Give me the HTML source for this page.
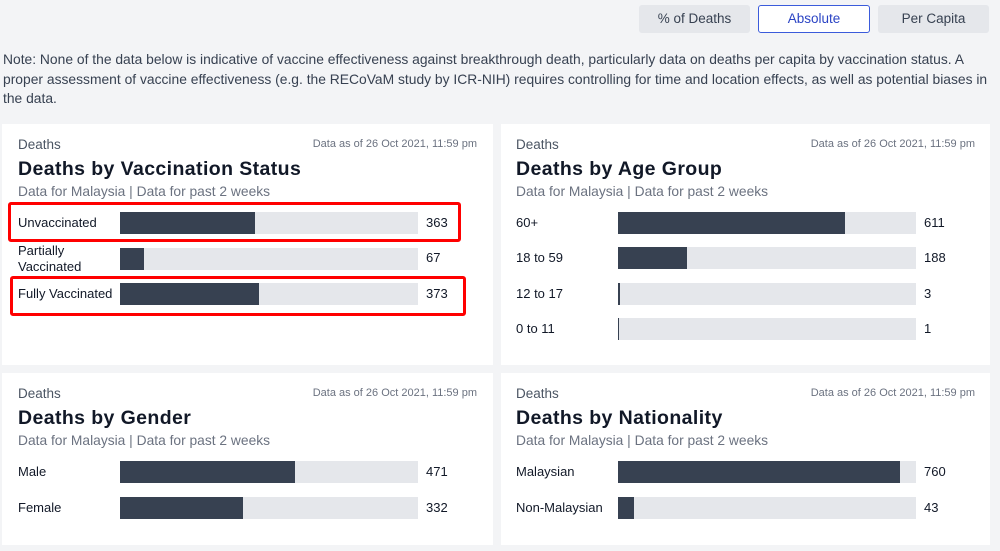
<!DOCTYPE html>
<html><head><style>
body{margin:0;width:1000px;height:551px;background:#f3f4f6;font-family:"Liberation Sans",sans-serif;position:relative;overflow:hidden;color:#111827}
.btn{position:absolute;top:5px;height:28px;width:111px;background:#e5e7eb;border-radius:3px;font-size:13.5px;line-height:28px;text-align:center;color:#374151}
.btn.a{background:#fff;border:1px solid #3b5bdb;color:#2b44c4;height:26px;line-height:26px;width:110px}
.note{position:absolute;left:3px;top:50px;width:995px;font-size:13.85px;line-height:19.5px;color:#374151}
.card{position:absolute;background:#fff}
.t{position:absolute;font-size:13.5px;color:#4b5563}
.d{position:absolute;font-size:11px;color:#6b7280;text-align:right;width:300px}
.h{position:absolute;font-size:19.5px;font-weight:bold;color:#111827;letter-spacing:0.4px}
.s{position:absolute;font-size:13.8px;color:#6b7280}
.lab{position:absolute;font-size:13px;color:#111827;line-height:16px}
.tr{position:absolute;height:22px;width:298px;background:#e5e7eb}
.f{height:22px;background:#374151}
.v{position:absolute;font-size:13px;color:#111827}
.red{position:absolute;border:3px solid #ff0000;border-radius:3px}
</style></head><body>
<div class="btn" style="left:639px">% of Deaths</div>
<div class="btn a" style="left:758px">Absolute</div>
<div class="btn" style="left:878px">Per Capita</div>
<div class="note">Note: None of the data below is indicative of vaccine effectiveness against breakthrough death, particularly data on deaths per capita by vaccination status. A proper assessment of vaccine effectiveness (e.g. the RECoVaM study by ICR-NIH) requires controlling for time and location effects, as well as potential biases in the data.</div>

<div class="card" style="left:2px;top:124px;width:491px;height:241px"></div>
<div class="card" style="left:501px;top:124px;width:489px;height:241px"></div>
<div class="card" style="left:2px;top:373px;width:491px;height:172px"></div>
<div class="card" style="left:501px;top:373px;width:489px;height:172px"></div>

<!-- card 1 -->
<div class="t" style="left:18px;top:137px">Deaths</div>
<div class="d" style="left:177px;top:138px">Data as of 26 Oct 2021, 11:59 pm</div>
<div class="h" style="left:18px;top:158px">Deaths by Vaccination Status</div>
<div class="s" style="left:18px;top:184px">Data for Malaysia | Data for past 2 weeks</div>
<div class="lab" style="left:18px;top:215px">Unvaccinated</div>
<div class="tr" style="left:120px;top:212px"><div class="f" style="width:135px"></div></div>
<div class="v" style="left:426px;top:215px">363</div>
<div class="lab" style="left:18px;top:243px">Partially<br>Vaccinated</div>
<div class="tr" style="left:120px;top:248px"><div class="f" style="width:24px"></div></div>
<div class="v" style="left:426px;top:250px">67</div>
<div class="lab" style="left:18px;top:286px">Fully Vaccinated</div>
<div class="tr" style="left:120px;top:283px"><div class="f" style="width:139px"></div></div>
<div class="v" style="left:426px;top:286px">373</div>
<div class="red" style="left:8px;top:202px;width:447px;height:34px"></div>
<div class="red" style="left:10px;top:276px;width:450px;height:34px"></div>

<!-- card 2 -->
<div class="t" style="left:516px;top:137px">Deaths</div>
<div class="d" style="left:675px;top:138px">Data as of 26 Oct 2021, 11:59 pm</div>
<div class="h" style="left:516px;top:158px">Deaths by Age Group</div>
<div class="s" style="left:516px;top:184px">Data for Malaysia | Data for past 2 weeks</div>
<div class="lab" style="left:516px;top:215px">60+</div>
<div class="tr" style="left:618px;top:212px"><div class="f" style="width:227px"></div></div>
<div class="v" style="left:924px;top:215px">611</div>
<div class="lab" style="left:516px;top:250px">18 to 59</div>
<div class="tr" style="left:618px;top:247px"><div class="f" style="width:69px"></div></div>
<div class="v" style="left:924px;top:250px">188</div>
<div class="lab" style="left:516px;top:286px">12 to 17</div>
<div class="tr" style="left:618px;top:283px"><div class="f" style="width:2px"></div></div>
<div class="v" style="left:924px;top:286px">3</div>
<div class="lab" style="left:516px;top:321px">0 to 11</div>
<div class="tr" style="left:618px;top:318px"><div class="f" style="width:1px"></div></div>
<div class="v" style="left:924px;top:321px">1</div>

<!-- card 3 -->
<div class="t" style="left:18px;top:386px">Deaths</div>
<div class="d" style="left:177px;top:387px">Data as of 26 Oct 2021, 11:59 pm</div>
<div class="h" style="left:18px;top:407px">Deaths by Gender</div>
<div class="s" style="left:18px;top:433px">Data for Malaysia | Data for past 2 weeks</div>
<div class="lab" style="left:18px;top:464px">Male</div>
<div class="tr" style="left:120px;top:461px"><div class="f" style="width:175px"></div></div>
<div class="v" style="left:426px;top:464px">471</div>
<div class="lab" style="left:18px;top:500px">Female</div>
<div class="tr" style="left:120px;top:497px"><div class="f" style="width:123px"></div></div>
<div class="v" style="left:426px;top:500px">332</div>

<!-- card 4 -->
<div class="t" style="left:516px;top:386px">Deaths</div>
<div class="d" style="left:675px;top:387px">Data as of 26 Oct 2021, 11:59 pm</div>
<div class="h" style="left:516px;top:407px">Deaths by Nationality</div>
<div class="s" style="left:516px;top:433px">Data for Malaysia | Data for past 2 weeks</div>
<div class="lab" style="left:516px;top:464px">Malaysian</div>
<div class="tr" style="left:618px;top:461px"><div class="f" style="width:282px"></div></div>
<div class="v" style="left:924px;top:464px">760</div>
<div class="lab" style="left:516px;top:500px">Non-Malaysian</div>
<div class="tr" style="left:618px;top:497px"><div class="f" style="width:16px"></div></div>
<div class="v" style="left:924px;top:500px">43</div>
</body></html>
